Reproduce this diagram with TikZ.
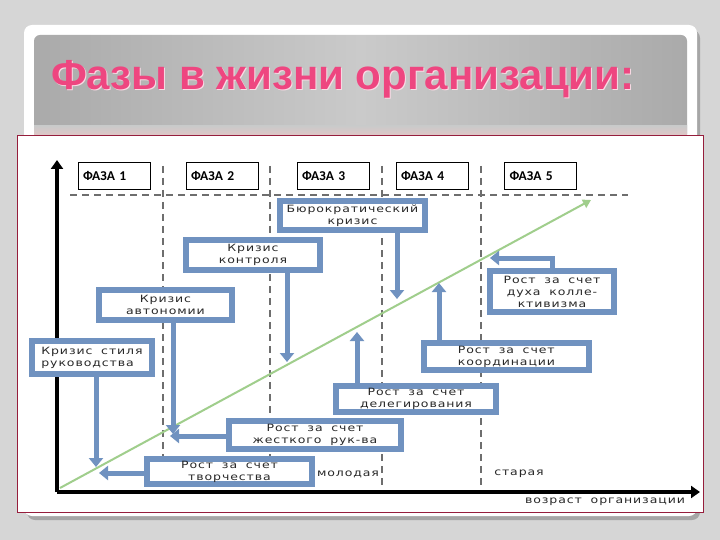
\documentclass[tikz,border=0pt]{standalone}
\usepackage{fontspec}
\setmainfont{DejaVu Sans}
\newfontfamily\titlefont{Liberation Sans}
\newfontfamily\boxfont[FakeStretch=1.25,LetterSpace=9,WordSpace=1.8]{DejaVu Sans}
\newfontfamily\phasefont{Carlito}
\usetikzlibrary{arrows.meta}

\definecolor{slidegray}{RGB}{214,214,214}
\definecolor{headdark}{RGB}{170,170,170}
\definecolor{headlight}{RGB}{202,202,202}
\definecolor{titlepink}{RGB}{238,70,128}
\definecolor{panelred}{RGB}{150,30,60}
\definecolor{boxblue}{RGB}{112,146,192}
\definecolor{rostgreen}{RGB}{160,206,140}
\definecolor{dashgray}{RGB}{110,110,110}
\definecolor{labelgray}{RGB}{40,40,40}

\tikzset{
  phase/.style={draw=black, line width=0.8pt, fill=white, minimum width=72pt,
    minimum height=27pt, text width=62pt, inner xsep=5pt, align=left,
    font=\phasefont\bfseries\fontsize{13.5}{15}\selectfont},
  blok/.style={draw=boxblue, line width=6pt, fill=white, inner sep=1pt,
    align=center, text=labelgray, font=\boxfont\fontsize{10}{12}\selectfont},
  pipe/.style={draw=boxblue, line width=5pt, -{Triangle[width=14pt,length=9pt]}},
  gitter/.style={dashgray, dashed, dash pattern=on 7pt off 5pt, line width=1.2pt},
  achse/.style={black, line width=4pt, -{Triangle[width=12pt,length=9pt]}},
  beschrift/.style={text=labelgray, font=\boxfont\fontsize{10}{12}\selectfont}
}

\begin{document}
\begin{tikzpicture}[x=1pt, y=-1pt]
\useasboundingbox (0,0) rectangle (720,540);

% slide background and frame
\fill[slidegray] (0,0) rectangle (720,540);
\fill[gray!70] (27,30) [rounded corners=8pt] rectangle (700,520);
\fill[white] (24,25) [rounded corners=8pt] rectangle (697,516);
\shade[left color=headdark, right color=headdark, middle color=headlight,
  rounded corners=6pt] (34,35) rectangle (687,140);
\shade[top color=headlight, bottom color=pink!40!headlight] (34,126) rectangle (687,135);

% title
\node[anchor=west, text=white!80!titlepink,
  font=\titlefont\bfseries\fontsize{42}{46}\selectfont] at (48.5,80) {Фазы в жизни организации:};
\node[anchor=west, text=titlepink,
  font=\titlefont\bfseries\fontsize{42}{46}\selectfont] (titel) at (47.5,79) {Фазы в жизни организации:};

% diagram panel
\draw[panelred, line width=0.8pt, fill=white] (17,135) rectangle (703,512);

% grid
\draw[gitter] (70,195) -- (628,195);
\foreach \gx in {163,270,382,481}
  \draw[gitter] (\gx,166) -- (\gx,492);

% axes
\coordinate (ursprung) at (57,492);
\coordinate (ytop) at (57,160);
\coordinate (xend) at (700,492);
\draw[achse] (ursprung) -- (ytop);
\draw[achse] (ursprung) -- (xend);

% phases
\node[phase] (fase1) at (114,175.5) {ФАЗА 1};
\node[phase] (fase2) at (222,175.5) {ФАЗА 2};
\node[phase] (fase3) at (333,175.5) {ФАЗА 3};
\node[phase] (fase4) at (432,175.5) {ФАЗА 4};
\node[phase] (fase5) at (540.5,175.5) {ФАЗА 5};

% growth line
\coordinate (rost0) at (60,488);
\coordinate (rost1) at (591,200);
\draw[rostgreen, line width=2pt, -{Triangle[width=9pt,length=8pt]}] (rost0) -- (rost1);

% crises and growth boxes
\node[blok, minimum width=145pt, minimum height=29pt] (burokrat) at (352.5,215.5) {Бюрократический\\кризис};
\node[blok, minimum width=134pt, minimum height=30pt] (kontrol) at (253,255) {Кризис\\контроля};
\node[blok, minimum width=133pt, minimum height=30pt] (avtonom) at (165.5,305) {Кризис\\автономии};
\node[blok, minimum width=120pt, minimum height=33pt, align=left] (stil) at (92,357.5) {Кризис стиля\\руководства};
\node[blok, minimum width=165pt, minimum height=25pt, inner sep=0pt] (tvorch) at (229.5,471.5) {Рост за счет\\творчества};
\node[blok, minimum width=172pt, minimum height=28pt] (zhestk) at (315,435) {Рост за счет\\жесткого рук-ва};
\node[blok, minimum width=160pt, minimum height=26pt, inner sep=0pt] (deleg) at (416,399) {Рост за счет\\делегирования};
\node[blok, minimum width=165pt, minimum height=27pt, align=left] (koord) at (506.5,356.5) {Рост за счет\\координации};
\node[blok, minimum width=124pt, minimum height=41pt] (kollekt) at (552,291.5) {Рост за счет\\духа колле-\\ктивизма};

% arrow ends
\coordinate (spitzeA) at (96,467);
\coordinate (spitzeB) at (99,473);
\coordinate (spitzeC) at (173,434);
\coordinate (spitzeD) at (170,436);
\coordinate (spitzeE) at (287,362);
\coordinate (spitzeF) at (357,332);
\coordinate (spitzeG) at (397,299);
\coordinate (spitzeH) at (439,283);
\coordinate (spitzeI) at (490,258);

\draw[pipe] (stil.south -| spitzeA) -- (spitzeA);
\draw[pipe] (tvorch.west |- spitzeB) -- (spitzeB);
\draw[pipe] (avtonom.south -| spitzeC) -- (spitzeC);
\draw[pipe] (zhestk.west |- spitzeD) -- (spitzeD);
\draw[pipe] (kontrol.south -| spitzeE) -- (spitzeE);
\draw[pipe] (deleg.north -| spitzeF) -- (spitzeF);
\draw[pipe] (burokrat.south -| spitzeG) -- (spitzeG);
\draw[pipe] (koord.north -| spitzeH) -- (spitzeH);
\draw[pipe] (kollekt.north) |- (spitzeI);

% labels
\node[beschrift] (jung) at (348,474) {молодая};
\node[beschrift] (alt) at (519,474) {старая};
\node[beschrift] (alter) at (605,502) {возраст организации};
\end{tikzpicture}
\end{document}
